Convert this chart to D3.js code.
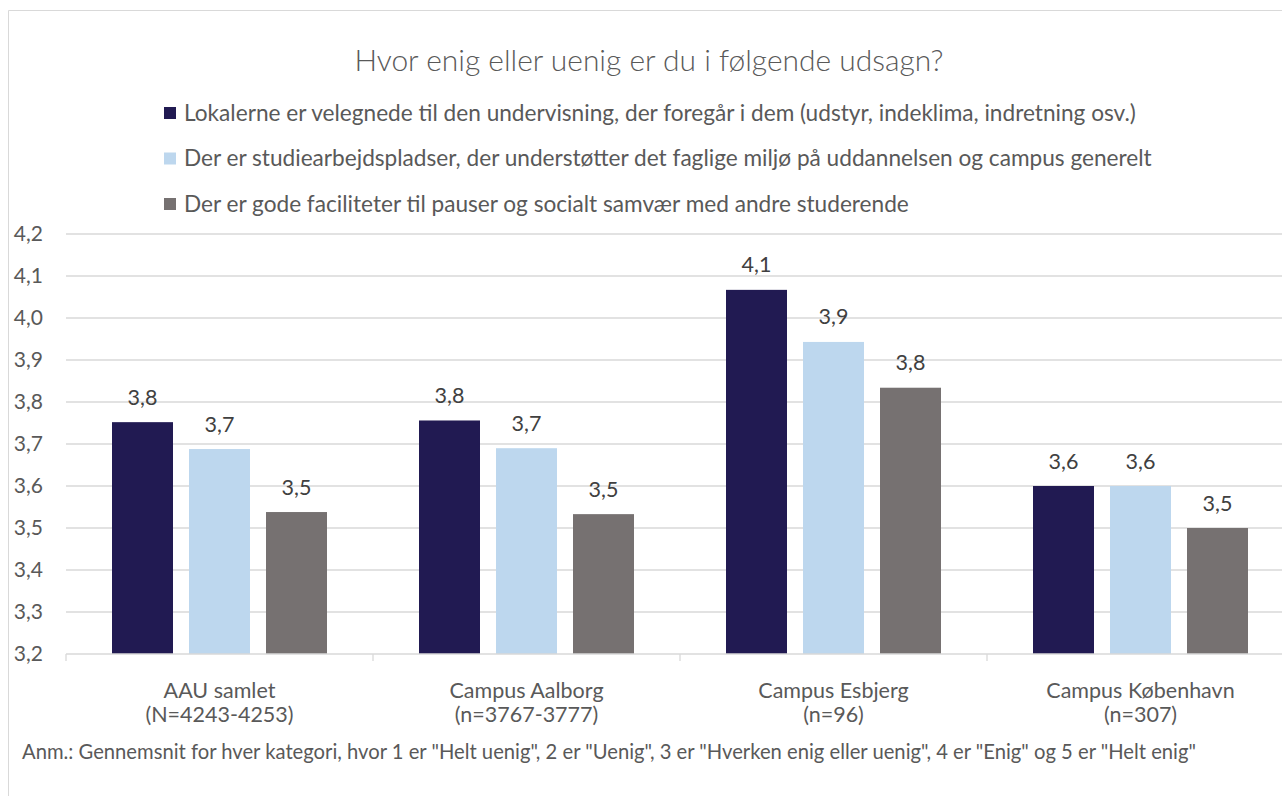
<!DOCTYPE html>
<html>
<head>
<meta charset="utf-8">
<script src="https://cdn.jsdelivr.net/npm/d3@7"></script>
<style>
  body { margin: 0; background: #fff; }
  svg text { font-family: Lato, "Noto Sans", sans-serif; }
</style>
</head>
<body>
<svg id="chart" width="1282" height="796"></svg>
<script>
// ---- data ----
const categories = ["AAU samlet", "Campus Aalborg", "Campus Esbjerg", "Campus København"];
const categoryN = ["(N=4243-4253)", "(n=3767-3777)", "(n=96)", "(n=307)"];
const seriesNames = [
  "Lokalerne er velegnede til den undervisning, der foregår i dem (udstyr, indeklima, indretning osv.)",
  "Der er studiearbejdspladser, der understøtter det faglige miljø på uddannelsen og campus generelt",
  "Der er gode faciliteter til pauser og socialt samvær med andre studerende"
];
const lokaler = [3.752, 3.756, 4.067, 3.60];
const studiepladser = [3.688, 3.690, 3.943, 3.60];
const faciliteter = [3.538, 3.533, 3.834, 3.50];
const yTicks = [3.2, 3.3, 3.4, 3.5, 3.6, 3.7, 3.8, 3.9, 4.0, 4.1, 4.2];
const seriesColors = ["#211a52", "#bdd7ee", "#767171"];
const titleText = "Hvor enig eller uenig er du i følgende udsagn?";
const noteText = 'Anm.: Gennemsnit for hver kategori, hvor 1 er "Helt uenig", 2 er "Uenig", 3 er "Hverken enig eller uenig", 4 er "Enig" og 5 er "Helt enig"';

const seriesValues = [lokaler, studiepladser, faciliteter];

const svg = d3.select("#chart");
const fmt = v => d3.format(".1f")(v).replace(".", ",");

// scale font so a text hits the width it has in the picture
function fitWidth(sel, target) {
  const w = sel.node().getComputedTextLength();
  const fs = parseFloat(sel.attr("font-size"));
  sel.attr("font-size", (fs * target / w).toFixed(2));
}

// chart border (cut off on the right and bottom)
svg.append("path")
  .attr("d", "M8.5,796V10.5H1282")
  .attr("fill", "none")
  .attr("stroke", "#d9d9d9");

let plotLeft = 66, catW = 307, plotTop = 234, plotBottom = 654;

let x0 = d3.scaleBand()
  .domain(categories)
  .range([plotLeft, plotLeft + catW * categories.length]);

let x1 = d3.scaleBand()
  .domain(d3.range(seriesValues.length))
  .range([46, catW - 46])
  .paddingInner(16 / 77);

let y = d3.scaleLinear()
  .domain([3.2, 4.2])
  .range([plotBottom, plotTop]);

// gridlines
svg.append("g")
  .selectAll("line")
  .data(yTicks.slice(1))
  .enter().append("line")
  .attr("x1", plotLeft).attr("x2", 1282)
  .attr("y1", d => y(d)).attr("y2", d => y(d))
  .attr("stroke", "#d9d9d9").attr("stroke-width", 1.3);

// y labels
svg.append("g")
  .selectAll("text")
  .data(yTicks)
  .enter().append("text")
  .attr("x", 43)
  .attr("y", d => y(d))
  .attr("dy", "0.35em")
  .attr("text-anchor", "end")
  .attr("font-size", 21)
  .attr("fill", "#595959")
  .text(fmt);

// bars
let groups = svg.append("g")
  .selectAll("g")
  .data(categories)
  .enter().append("g")
  .attr("transform", d => "translate(" + x0(d) + ",0)");

groups.selectAll("rect")
  .data((d, i) => seriesValues.map((s, j) => ({ s: j, v: s[i] })))
  .enter().append("rect")
  .attr("x", d => x1(d.s))
  .attr("width", x1.bandwidth())
  .attr("y", d => y(d.v))
  .attr("height", d => plotBottom - y(d.v))
  .attr("fill", d => seriesColors[d.s]);

groups.selectAll("text.lbl")
  .data((d, i) => seriesValues.map((s, j) => ({ s: j, v: s[i] })))
  .enter().append("text")
  .attr("class", "lbl")
  .attr("x", d => x1(d.s) + x1.bandwidth() / 2)
  .attr("y", d => y(d.v) - 25)
  .attr("dy", "0.35em")
  .attr("text-anchor", "middle")
  .attr("font-size", 21.5)
  .attr("fill", "#404040")
  .text(d => fmt(d.v));

// x axis
let xAxis = svg.append("g")
  .attr("transform", "translate(0," + plotBottom + ")")
  .call(d3.axisBottom(x0).tickSize(0).tickFormat(""));
xAxis.select(".domain").attr("stroke", "#d9d9d9").attr("stroke-width", 1.3)
  .attr("d", "M" + plotLeft + ",0H1282");

svg.append("g")
  .selectAll("line")
  .data(d3.range(categories.length + 1))
  .enter().append("line")
  .attr("x1", i => plotLeft + i * catW).attr("x2", i => plotLeft + i * catW)
  .attr("y1", plotBottom).attr("y2", plotBottom + 7)
  .attr("stroke", "#d9d9d9").attr("stroke-width", 1.3);

categories.forEach((c, i) => {
  let cx = x0(c) + x0.bandwidth() / 2;
  [c, categoryN[i]].forEach((t, k) => {
    svg.append("text")
      .attr("x", cx)
      .attr("y", 690 + k * 24)
      .attr("dy", "0.35em")
      .attr("text-anchor", "middle")
      .attr("font-size", 21.5)
      .attr("fill", "#595959")
      .text(t);
  });
});

// title
let title = svg.append("text")
  .attr("x", 649)
  .attr("y", 61)
  .attr("dy", "0.35em")
  .attr("text-anchor", "middle")
  .attr("font-size", 26)
  .attr("font-weight", 300)
  .attr("fill", "#595959")
  .text(titleText);
fitWidth(title, 589);

// legend
let legend = svg.append("g")
  .selectAll("g")
  .data(seriesNames)
  .enter().append("g")
  .attr("transform", (d, i) => "translate(164," + (113 + i * 45.5) + ")");

legend.append("rect")
  .attr("x", 0).attr("y", -6)
  .attr("width", 12).attr("height", 12)
  .attr("fill", (d, i) => seriesColors[i]);

let legendText = legend.append("text")
  .attr("x", 20)
  .attr("dy", "0.35em")
  .attr("font-size", 19)
  .attr("fill", "#595959")
  .text(d => d);

// all rows get the size that fits the first row
let first = d3.select(legendText.nodes()[0]);
fitWidth(first, 952);
legendText.attr("font-size", first.attr("font-size"));

// note
let note = svg.append("text")
  .attr("x", 22)
  .attr("y", 752)
  .attr("dy", "0.35em")
  .attr("font-size", 16)
  .attr("fill", "#595959")
  .text(noteText);
fitWidth(note, 1175);
</script>
</body>
</html>
